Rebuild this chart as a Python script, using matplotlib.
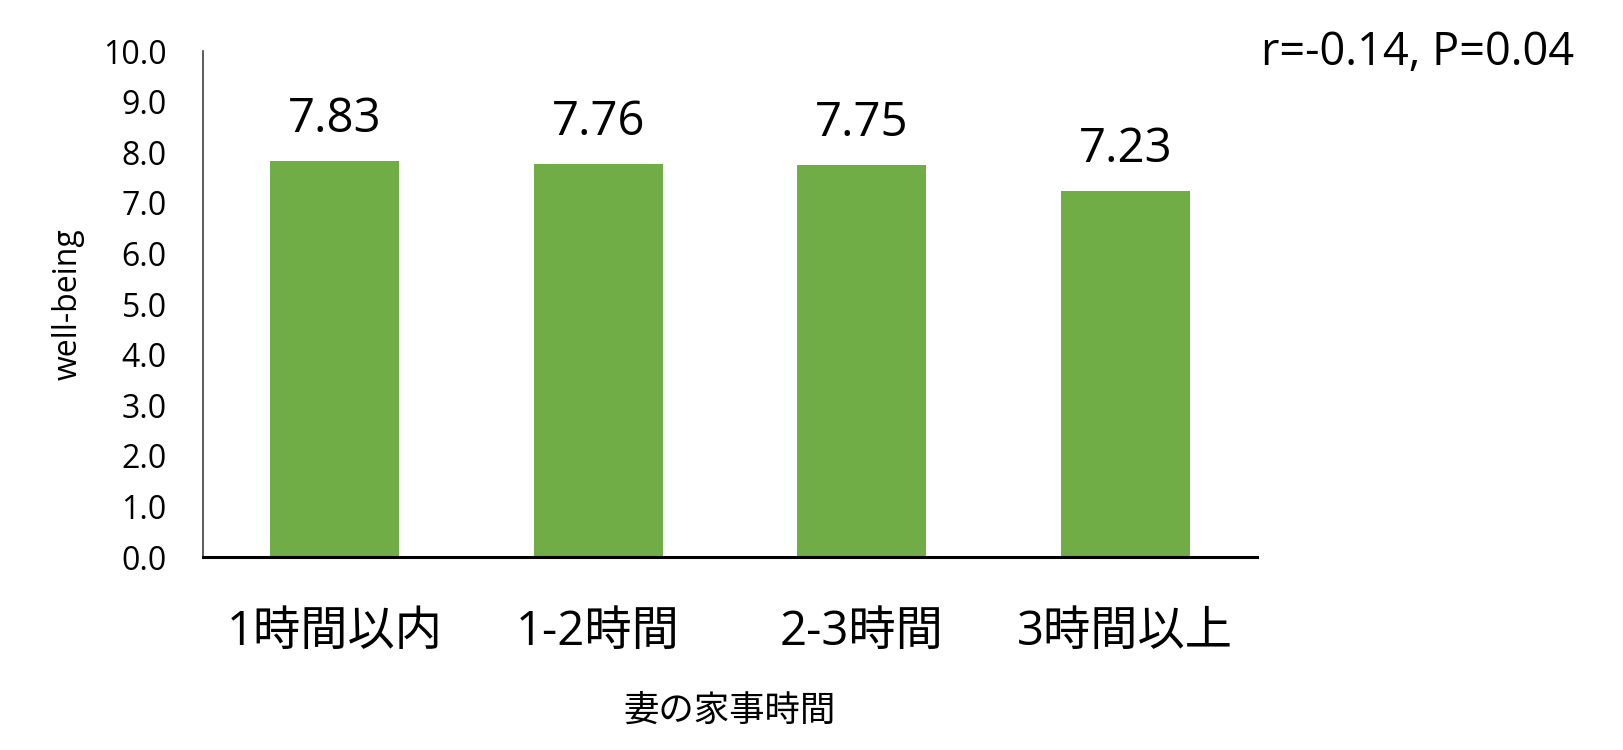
import matplotlib
matplotlib.use('Agg')
import matplotlib.pyplot as plt

###########################
## data
categories = ['1時間以内', '1-2時間', '2-3時間', '3時間以上']
wellbeing = [7.83, 7.76, 7.75, 7.23]
y_ticks = [0, 1, 2, 3, 4, 5, 6, 7, 8, 9, 10]
stat_text = 'r=-0.14, P=0.04'
###########################

plt.rcParams['font.family'] = ['Open Sans', 'Noto Sans CJK JP', 'DejaVu Sans']

fig = plt.figure(figsize=(16.23, 7.5), dpi=100)
ax = fig.add_axes([0.125, 0.2573, 0.6495, 0.6747])

x = range(len(categories))
bars = ax.bar(x, wellbeing, width=0.49, color='#70AD47')

# value labels above the bars
for xi, v in zip(x, wellbeing):
    ax.annotate(f'{v:.2f}', (xi, v), xytext=(0, 13), textcoords='offset points',
                ha='center', va='bottom', fontsize=34)

ax.set_xlim(-0.5, 3.5)
ax.set_ylim(0, 10)
ax.set_yticks(y_ticks)
ax.set_yticklabels([f'{t:.1f}' for t in y_ticks], fontsize=23)
ax.set_xticks(list(x))
ax.set_xticklabels(categories, fontsize=34)
ax.tick_params(axis='y', length=0, pad=26)
ax.tick_params(axis='x', length=0, pad=37)

for s in ['top', 'right']:
    ax.spines[s].set_visible(False)
ax.spines['left'].set_color('#404040')
ax.spines['left'].set_linewidth(1.2)
ax.spines['bottom'].set_color('black')
ax.spines['bottom'].set_linewidth(2.2)

ax.set_ylabel('well-being', fontsize=23, labelpad=13)
ax.set_xlabel('妻の家事時間', fontsize=25.5, labelpad=28)

fig.text(0.777, 0.929, stat_text, fontsize=32.5, ha='left', va='center')

plt.savefig('out.png', dpi=100)
